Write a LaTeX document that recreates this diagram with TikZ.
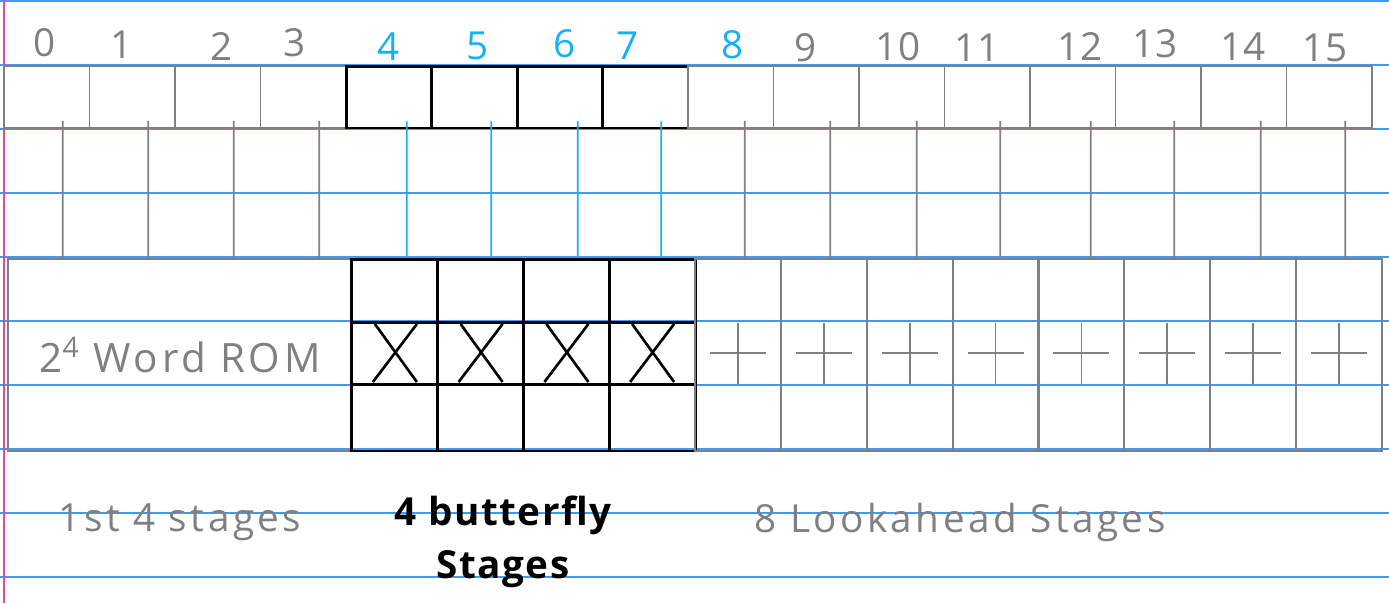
\documentclass[tikz,border=0pt]{standalone}
\usepackage{fontspec}
\setmainfont{Open Sans}
\definecolor{pengray}{RGB}{128,128,128}
\definecolor{penblue}{RGB}{20,178,240}
\definecolor{ruleblue}{RGB}{60,155,250}
\definecolor{rulepink}{RGB}{230,70,160}
\usetikzlibrary{calc}

\begin{document}
\begin{tikzpicture}[x=0.02cm, y=-0.02cm,
    reg/.style={rectangle, draw=pengray, line width=1.1pt, minimum width=1.71cm, minimum height=1.24cm, inner sep=0pt},
    regb/.style={reg, draw=black, line width=1.7pt},
    col/.style={rectangle, draw=pengray, line width=1.1pt, minimum width=1.72cm, minimum height=3.84cm, inner sep=0pt},
    colb/.style={col, draw=black, line width=1.7pt},
    wire/.style={draw=pengray, line width=1pt},
    wireb/.style={draw=penblue, line width=0.9pt},
    pen/.style={draw=pengray, line width=1pt},
    penb/.style={draw=black, line width=1.5pt},
    num/.style={font=\fontsize{22}{26}\selectfont, text=pengray},
    numb/.style={num, text=penblue},
    note/.style={font=\fontsize{22}{30}\selectfont\addfontfeatures{LetterSpace=9}, text=pengray, align=center}
  ]
    \useasboundingbox (0,0) rectangle (1389,603);
    % Ruled paper
    \fill[white] (0,0) rectangle (1389,603);
    \foreach \r in {1,65,129,193,257,321,385,449,513,577}
      \draw[ruleblue, line width=0.8pt] (0,\r) -- (1389,\r);
    \draw[rulepink, line width=0.9pt] (4,0) -- (4,603);
    % Input registers
    \node[reg]  (t0)  at (46.75, 97)  {};
    \node[reg]  (t1)  at (132.25, 97) {};
    \node[reg]  (t2)  at (217.75, 97) {};
    \node[reg]  (t3)  at (303.25, 97) {};
    \node[regb] (t4)  at (388.75, 97) {};
    \node[regb] (t5)  at (474.25, 97) {};
    \node[regb] (t6)  at (559.75, 97) {};
    \node[regb] (t7)  at (645.25, 97) {};
    \node[reg]  (t8)  at (730.75, 97) {};
    \node[reg]  (t9)  at (816.25, 97) {};
    \node[reg]  (t10) at (901.75, 97) {};
    \node[reg]  (t11) at (987.25, 97) {};
    \node[reg]  (t12) at (1072.75, 97) {};
    \node[reg]  (t13) at (1158.25, 97) {};
    \node[reg]  (t14) at (1243.75, 97) {};
    \node[reg]  (t15) at (1329.25, 97) {};
    % Register indices
    \node[num]  (n0)  at (45, 43)   {0};
    \node[num]  (n1)  at (122, 45)  {1};
    \node[num]  (n2)  at (222, 46)  {2};
    \node[num]  (n3)  at (295, 43)  {3};
    \node[numb] (n4)  at (389, 47)  {4};
    \node[numb] (n5)  at (478, 46)  {5};
    \node[numb] (n6)  at (565, 44)  {6};
    \node[numb] (n7)  at (628, 46)  {7};
    \node[numb] (n8)  at (733, 45)  {8};
    \node[num]  (n9)  at (806, 48)  {9};
    \node[num]  (n10) at (898, 47)  {10};
    \node[num]  (n11) at (977, 48)  {11};
    \node[num]  (n12) at (1080, 46) {12};
    \node[num]  (n13) at (1155, 44) {13};
    \node[num]  (n14) at (1243, 47) {14};
    \node[num]  (n15) at (1325, 48) {15};
    % ROM block
    \node[col, minimum width=6.88cm, font=\fontsize{23}{26}\selectfont\addfontfeatures{LetterSpace=9}, text=pengray]
      (rom) at (180, 355) {2\textsuperscript{4} Word ROM};
    % Butterfly stages
    \node[colb] (bf4) at (394.9, 355) {};
    \node[colb] (bf5) at (480.6, 355) {};
    \node[colb] (bf6) at (566.4, 355) {};
    \node[colb] (bf7) at (652.1, 355) {};
    \draw[penb, line width=1.7pt] ($(bf4.west)+(0,-33)$) -- ($(bf7.east)+(0,-33)$);
    \draw[penb, line width=1.7pt] ($(bf4.west)+(0,29)$) -- ($(bf7.east)+(0,29)$);
    \draw[penb] ($(bf4)+(-20,-31)$) -- ($(bf4)+(22,27)$) ($(bf4)+(22,-31)$) -- ($(bf4)+(-22,27)$);
    \draw[penb] ($(bf5)+(-20,-31)$) -- ($(bf5)+(22,27)$) ($(bf5)+(22,-31)$) -- ($(bf5)+(-22,27)$);
    \draw[penb] ($(bf6)+(-20,-31)$) -- ($(bf6)+(22,27)$) ($(bf6)+(22,-31)$) -- ($(bf6)+(-22,27)$);
    \draw[penb] ($(bf7)+(-20,-31)$) -- ($(bf7)+(22,27)$) ($(bf7)+(22,-31)$) -- ($(bf7)+(-22,27)$);
    % Lookahead stages
    \node[col] (la8)  at (738, 355)  {};
    \node[col] (la9)  at (823.8, 355) {};
    \node[col] (la10) at (909.7, 355) {};
    \node[col] (la11) at (995.6, 355) {};
    \node[col] (la12) at (1081.4, 355) {};
    \node[col] (la13) at (1167.3, 355) {};
    \node[col] (la14) at (1253.2, 355) {};
    \node[col] (la15) at (1339, 355) {};
    \draw[pen] ($(la8)+(0,-32)$) -- ($(la8)+(0,29)$) ($(la8)+(-28,-2)$) -- ($(la8)+(28,-2)$);
    \draw[pen] ($(la9)+(0,-32)$) -- ($(la9)+(0,29)$) ($(la9)+(-28,-2)$) -- ($(la9)+(28,-2)$);
    \draw[pen] ($(la10)+(0,-32)$) -- ($(la10)+(0,29)$) ($(la10)+(-28,-2)$) -- ($(la10)+(28,-2)$);
    \draw[pen] ($(la11)+(0,-32)$) -- ($(la11)+(0,29)$) ($(la11)+(-28,-2)$) -- ($(la11)+(28,-2)$);
    \draw[pen] ($(la12)+(0,-32)$) -- ($(la12)+(0,29)$) ($(la12)+(-28,-2)$) -- ($(la12)+(28,-2)$);
    \draw[pen] ($(la13)+(0,-32)$) -- ($(la13)+(0,29)$) ($(la13)+(-28,-2)$) -- ($(la13)+(28,-2)$);
    \draw[pen] ($(la14)+(0,-32)$) -- ($(la14)+(0,29)$) ($(la14)+(-28,-2)$) -- ($(la14)+(28,-2)$);
    \draw[pen] ($(la15)+(0,-32)$) -- ($(la15)+(0,29)$) ($(la15)+(-28,-2)$) -- ($(la15)+(28,-2)$);
    % Wires into the stages
    \draw[wire]  ([shift={(16,-8)}]t0.south)  -- ([xshift=0.32cm]t0.south |- rom.north);
    \draw[wire]  ([shift={(16,-8)}]t1.south)  -- ([xshift=0.32cm]t1.south |- rom.north);
    \draw[wire]  ([shift={(16,-8)}]t2.south)  -- ([xshift=0.32cm]t2.south |- rom.north);
    \draw[wire]  ([shift={(16,-8)}]t3.south)  -- ([xshift=0.32cm]t3.south |- rom.north);
    \draw[wireb] ([shift={(18,-8)}]t4.south)  -- ([xshift=0.36cm]t4.south |- bf4.north);
    \draw[wireb] ([shift={(17,-8)}]t5.south)  -- ([xshift=0.34cm]t5.south |- bf5.north);
    \draw[wireb] ([shift={(18,-8)}]t6.south)  -- ([xshift=0.36cm]t6.south |- bf6.north);
    \draw[wireb] ([shift={(16,-8)}]t7.south)  -- ([xshift=0.32cm]t7.south |- bf7.north);
    \draw[wire]  ([shift={(14,-8)}]t8.south)  -- ([xshift=0.28cm]t8.south |- la8.north);
    \draw[wire]  ([shift={(14,-8)}]t9.south)  -- ([xshift=0.28cm]t9.south |- la9.north);
    \draw[wire]  ([shift={(15,-8)}]t10.south) -- ([xshift=0.30cm]t10.south |- la10.north);
    \draw[wire]  ([shift={(13,-8)}]t11.south) -- ([xshift=0.26cm]t11.south |- la11.north);
    \draw[wire]  ([shift={(18,-8)}]t12.south) -- ([xshift=0.36cm]t12.south |- la12.north);
    \draw[wire]  ([shift={(16,-8)}]t13.south) -- ([xshift=0.32cm]t13.south |- la13.north);
    \draw[wire]  ([shift={(17,-8)}]t14.south) -- ([xshift=0.34cm]t14.south |- la14.north);
    \draw[wire]  ([shift={(16,-8)}]t15.south) -- ([xshift=0.32cm]t15.south |- la15.north);
    % Stage captions
    \node[note] (romcap) at (180, 522) {1st 4 stages};
    \node[note, text=black, font=\fontsize{22}{30}\selectfont\bfseries\addfontfeatures{LetterSpace=4}] (bfcap) at (503, 542) {4 butterfly\\Stages};
    \node[note] (lacap) at (960, 522) {8 Lookahead Stages};
  \end{tikzpicture}
\end{document}
